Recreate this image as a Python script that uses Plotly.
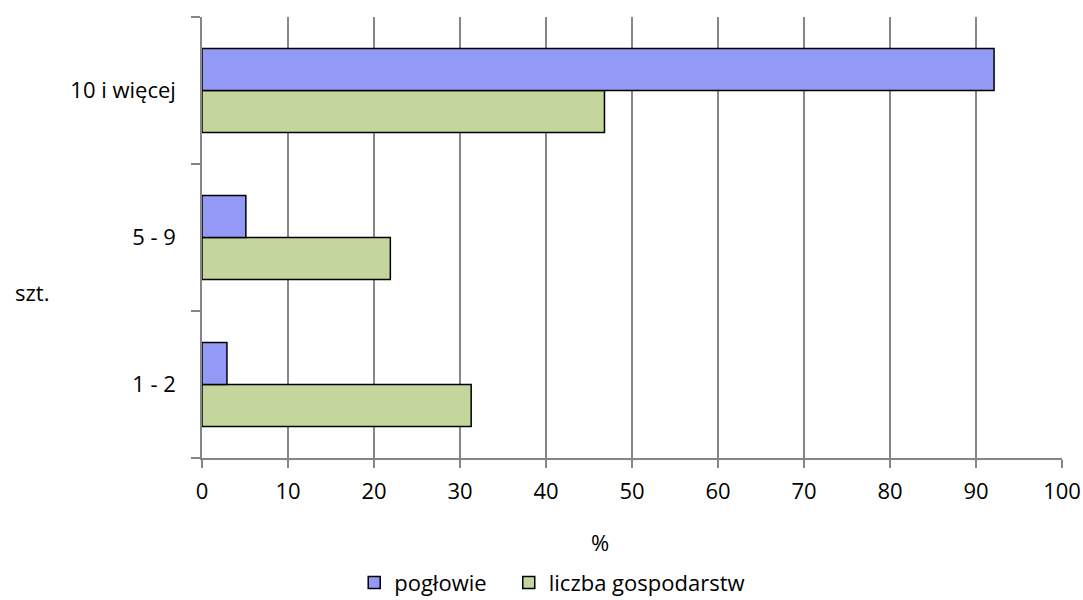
import plotly.graph_objects as go

categories = ["1 - 2", "5 - 9", "10 i więcej"]
poglowie = [2.9, 5.1, 92.1]
liczba_gospodarstw = [31.3, 21.9, 46.8]
x_ticks = [0, 10, 20, 30, 40, 50, 60, 70, 80, 90, 100]

FONT = "Open Sans"
GRID = "#868686"
PAD = "\u00a0" * 3

fig = go.Figure()
fig.add_trace(go.Bar(
    y=categories, x=liczba_gospodarstw, orientation="h", name="liczba gospodarstw",
    marker=dict(color="#C3D69B", line=dict(color="#000000", width=1.5)), legendrank=2,
))
fig.add_trace(go.Bar(
    y=categories, x=poglowie, orientation="h", name="pogłowie" + PAD,
    marker=dict(color="#9299F7", line=dict(color="#000000", width=1.5)), legendrank=1,
))

fig.update_layout(
    width=1083, height=600,
    margin=dict(l=202, r=21, t=17, b=142, autoexpand=False),
    paper_bgcolor="white", plot_bgcolor="white",
    barmode="group", bargap=0.43, bargroupgap=0,
    font=dict(family=FONT, size=22, color="#000000"),
    showlegend=True,
    legend=dict(orientation="h", x=0.177, xanchor="left", y=-0.283, yanchor="middle",
                font=dict(size=22), itemwidth=30, traceorder="normal"),
    xaxis=dict(range=[0, 100], tickvals=x_ticks, showgrid=True, gridcolor=GRID, gridwidth=1.5,
               showline=True, linecolor=GRID, linewidth=1.5, ticks="outside", ticklen=8,
               tickcolor=GRID, tickwidth=1.5, zeroline=False, fixedrange=True,
               automargin=False, ticklabelstandoff=5, ticklabeloverflow="allow"),
    yaxis=dict(type="category", categoryorder="array", categoryarray=categories,
               tickson="boundaries", ticks="outside", ticklen=9, tickcolor=GRID, tickwidth=1.5,
               showline=True, linecolor=GRID, linewidth=1.5, showgrid=False, fixedrange=True,
               ticklabelstandoff=20, automargin=False),
    annotations=[
        dict(text="%", xref="paper", yref="paper", x=0.463, y=-0.19, xanchor="center",
             yanchor="middle", showarrow=False, font=dict(size=22)),
        dict(text="szt.", xref="paper", yref="paper", x=-0.22, y=0.376, xanchor="left",
             yanchor="middle", showarrow=False, font=dict(size=22)),
    ],
)

fig.write_html("out.html", config={"displayModeBar": False},
               post_script="document.body.style.margin='0px'; document.body.style.overflow='hidden';")
